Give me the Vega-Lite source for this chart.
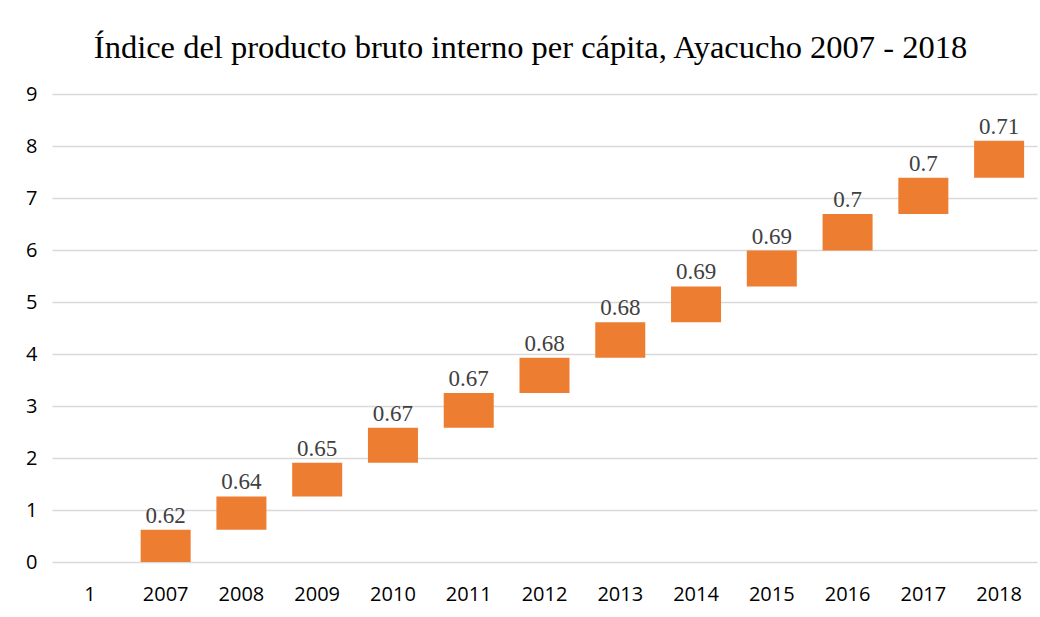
{
  "$schema": "https://vega.github.io/schema/vega-lite/v6.json",
  "width": 985,
  "height": 468,
  "autosize": {"type": "none"},
  "padding": {"left": 52, "top": 94, "right": 3, "bottom": 55},
  "background": "white",
  "title": {
    "text": "Índice del producto bruto interno per cápita, Ayacucho 2007 - 2018",
    "font": "Liberation Serif",
    "fontSize": 32.5,
    "fontWeight": "normal",
    "color": "#000000",
    "anchor": "middle",
    "baseline": "alphabetic",
    "offset": -6,
    "dx": -14
  },
  "data": {
    "values": [
      {"year": "1", "start": null, "end": null, "value": null},
      {"year": "2007", "start": 0, "end": 0.62, "value": 0.62},
      {"year": "2008", "start": 0.62, "end": 1.26, "value": 0.64},
      {"year": "2009", "start": 1.26, "end": 1.91, "value": 0.65},
      {"year": "2010", "start": 1.91, "end": 2.58, "value": 0.67},
      {"year": "2011", "start": 2.58, "end": 3.25, "value": 0.67},
      {"year": "2012", "start": 3.25, "end": 3.93, "value": 0.68},
      {"year": "2013", "start": 3.93, "end": 4.61, "value": 0.68},
      {"year": "2014", "start": 4.61, "end": 5.3, "value": 0.69},
      {"year": "2015", "start": 5.3, "end": 5.99, "value": 0.69},
      {"year": "2016", "start": 5.99, "end": 6.69, "value": 0.7},
      {"year": "2017", "start": 6.69, "end": 7.39, "value": 0.7},
      {"year": "2018", "start": 7.39, "end": 8.1, "value": 0.71}
    ]
  },
  "encoding": {
    "x": {
      "field": "year",
      "type": "ordinal",
      "sort": null,
      "scale": {
        "domain": ["1", "2007", "2008", "2009", "2010", "2011", "2012", "2013", "2014", "2015", "2016", "2017", "2018"],
        "paddingInner": 0.34,
        "paddingOuter": 0.17
      },
      "axis": {
        "title": null,
        "labelAngle": 0,
        "labelFont": "Open Sans",
        "labelFontSize": 20,
        "labelColor": "#000000",
        "labelPadding": 22,
        "ticks": false,
        "domain": false,
        "grid": false
      }
    }
  },
  "layer": [
    {
      "mark": {"type": "bar", "color": "#ED7D31"},
      "encoding": {
        "y": {
          "field": "start",
          "type": "quantitative",
          "scale": {"domain": [0, 9]},
          "axis": {
            "title": null,
            "values": [0, 1, 2, 3, 4, 5, 6, 7, 8, 9],
            "labelFont": "Open Sans",
            "labelFontSize": 20,
            "labelColor": "#000000",
            "labelPadding": 15,
            "ticks": false,
            "domain": false,
            "gridColor": "#d9d9d9",
            "gridWidth": 1.5
          }
        },
        "y2": {"field": "end"}
      }
    },
    {
      "mark": {"type": "text", "font": "Liberation Serif", "fontSize": 23, "color": "#404040", "baseline": "alphabetic", "dy": -7},
      "encoding": {
        "y": {"field": "end", "type": "quantitative"},
        "text": {"field": "value", "type": "quantitative"}
      }
    }
  ],
  "config": {"view": {"stroke": null}}
}
